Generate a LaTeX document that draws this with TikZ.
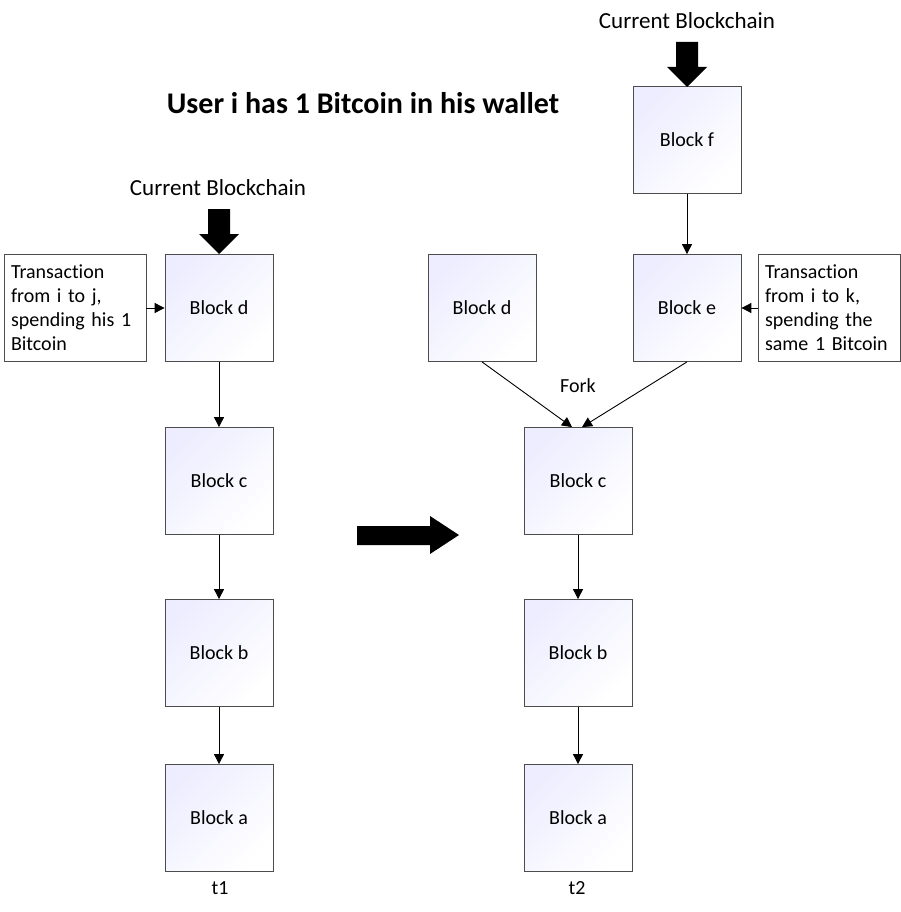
\documentclass[tikz,border=0pt]{standalone}
\usepackage{fontspec}
\setmainfont[Ligatures=NoCommon]{Carlito}
\usetikzlibrary{arrows.meta}
\begin{document}
\begin{tikzpicture}[x=1pt, y=-1pt,
    block/.style={draw=black!70, line width=0.8pt, shading=axis, left color=blue!7!white, right color=white, shading angle=45,
      minimum width=108pt, minimum height=107pt, inner sep=0pt, font=\fontsize{20}{24}\selectfont},
    txbox/.style={draw=black!70, line width=0.8pt, fill=white, text width=128pt, inner xsep=7pt, inner ysep=0pt,
      minimum height=107pt, align=left, font=\fontsize{20}{24}\selectfont},
    link/.style={line width=0.9pt, -{Triangle[length=10pt, width=10pt]}},
    bigarrow/.style={fill=black}]
        \useasboundingbox (0,0) rectangle (901,912);

        % title
        \node (title) at (363,103) {\fontsize{30}{34}\selectfont\bfseries User i has 1 Bitcoin in his wallet};

        % chain at t1
        \node [block] (d1) at (219,308) {Block d};
        \node [block] (c1) at (219,481) {Block c};
        \node [block] (b1) at (219,653) {Block b};
        \node [block] (a1) at (219,818) {Block a};
        \node [txbox] (tx1) at (75,308) {Transaction\\from i to j,\\spending his 1\\Bitcoin};
        \node (t1) at (220,888) {\fontsize{20}{24}\selectfont t1};
        \node (cur1) at (218,188) {\fontsize{23}{26}\selectfont Current Blockchain};

        \draw [link] (tx1) -- (d1);
        \draw [link] (d1) -- (c1);
        \draw [link] (c1) -- (b1);
        \draw [link] (b1) -- (a1);
        \fill [bigarrow] (208,209) -- (230,209) -- (230,234) -- (239,234) -- (219,254) -- (199,234) -- (208,234) -- cycle;

        % time step
        \fill [bigarrow] (357,526) -- (430,526) -- (430,516) -- (459,535) -- (430,554) -- (430,545) -- (357,545) -- cycle;

        % chain at t2
        \node [block] (f2) at (687,140) {Block f};
        \node [block] (e2) at (687,308) {Block e};
        \node [block] (d2) at (482,308) {Block d};
        \node [block] (c2) at (578,481) {Block c};
        \node [block] (b2) at (578,653) {Block b};
        \node [block] (a2) at (578,818) {Block a};
        \node [txbox] (tx2) at (829,308) {Transaction\\from i to k,\\spending the\\same 1 Bitcoin};
        \node (t2) at (577,888) {\fontsize{20}{24}\selectfont t2};
        \node (cur2) at (687,21) {\fontsize{23}{26}\selectfont Current Blockchain};
        \node (fork) at (578,386) {\fontsize{20}{24}\selectfont Fork};

        \draw [link] (tx2) -- (e2);
        \draw [link] (f2) -- (e2);
        \draw [link] (d2.south) -- ([xshift=-6pt]c2.north);
        \draw [link] (e2.south) -- ([xshift=4pt]c2.north);
        \draw [link] (c2) -- (b2);
        \draw [link] (b2) -- (a2);
        \fill [bigarrow] (676,42) -- (698,42) -- (698,67) -- (707,67) -- (687,87) -- (667,67) -- (676,67) -- cycle;
      \end{tikzpicture}
\end{document}
